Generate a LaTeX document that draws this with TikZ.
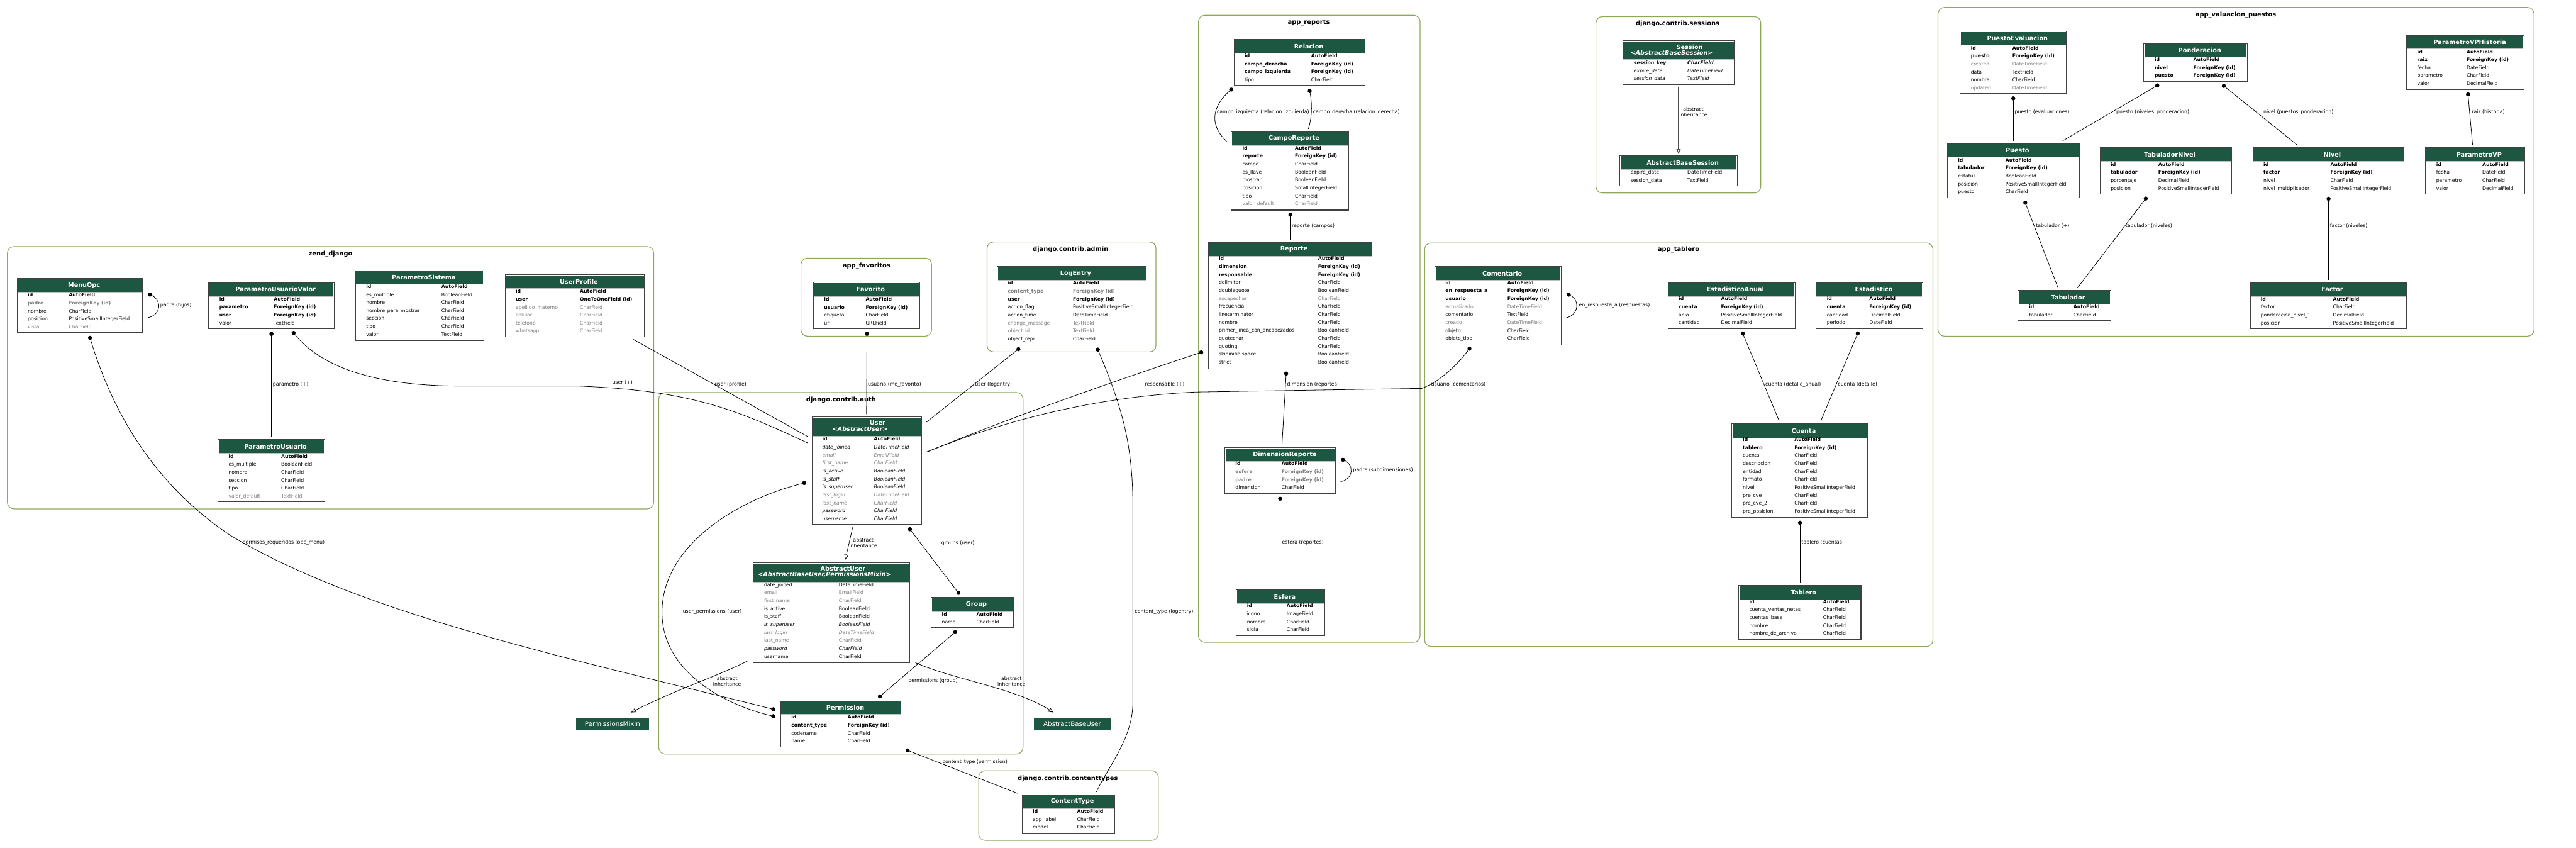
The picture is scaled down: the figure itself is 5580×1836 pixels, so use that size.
\documentclass[tikz,border=0pt]{standalone}
\usepackage{fontspec}
\setmainfont{DejaVu Sans}
\usetikzlibrary{arrows.meta}
\definecolor{hdrgreen}{HTML}{1E5741}
\definecolor{clus}{HTML}{8DA85A}
\definecolor{fgray}{HTML}{7F7F7F}
\definecolor{tborder}{HTML}{404040}
\newcommand\fxb{\bfseries}
\newcommand\fxn{}
\newcommand\fxg{\color{fgray}}
\newcommand\fxgb{\color{fgray}\bfseries}
\newcommand\fxi{\itshape}
\newcommand\fxgi{\color{fgray}\itshape}
\newcommand\fxbi{\bfseries\itshape}
\tikzset{
  tblbox/.style={draw=tborder, line width=1.4pt, inner sep=0pt, outer sep=0pt},
  hdrfill/.style={fill=hdrgreen},
  hdrtxt/.style={font=\fontsize{13.2}{15}\selectfont\bfseries, text=white, inner sep=0pt},
  fldtxt/.style={font=\fontsize{10.5}{12}\selectfont, inner sep=0pt, anchor=base west},
  clusterbox/.style={draw=clus, line width=1.6pt, rounded corners=14pt, inner sep=0pt, outer sep=0pt, anchor=north west},
  cluslbl/.style={font=\fontsize{13.5}{15}\selectfont\bfseries, inner sep=0pt},
  rel/.style={draw=black, line width=1.1pt},
  inh/.style={draw=black, line width=1.1pt, -{Triangle[open,length=11pt,width=9pt]}},
  lbl/.style={font=\fontsize{10.7}{12}\selectfont, inner sep=0pt, anchor=west},
  lblc/.style={font=\fontsize{10.7}{12}\selectfont, inner sep=0pt, align=center},
  plainbox/.style={fill=hdrgreen, text=white, font=\fontsize{14}{16}\selectfont, inner sep=0pt, anchor=north west},
}
% name, x, y, w, h, header height, title x, title
\newcommand\mtbl[8]{%
  \fill[white] (#2,#3) rectangle (#2+#4,#3+#5);
  \fill[hdrfill] (#2+1.5,#3+1.5) rectangle (#2+#4-1.5,#3+#6);
  \draw[white!75!black, line width=0.8pt] (#2+1.5,#3+#6) -- (#2+#4-1.5,#3+#6);
  \node[tblbox, minimum width=#4pt, minimum height=#5pt, anchor=north west] (#1) at (#2,#3) {};
  \node[hdrtxt] (#1-title) at (#7,#3+#6/2) {#8};
}
% name, col1 x, col2 x, first row centre y, list
\newcommand\mrows[5]{%
  \foreach [count=\xi] \xs/\xa/\xb in {#5} {
    \node[fldtxt] (#1-a\xi) at (#2,#4+3.8+17.25*\xi-17.25) {\xs\xa};
    \node[fldtxt] (#1-b\xi) at (#3,#4+3.8+17.25*\xi-17.25) {\xs\xb};
  }
}
\newcommand\mdot[1]{\fill (#1) circle (4.5pt);}
\begin{document}
\begin{tikzpicture}[x=1pt,y=-1pt]
\useasboundingbox (0,0) rectangle (5580,1836);
\fill[white] (0,0) rectangle (5580,1836);

% ---------------- clusters ----------------
\node[clusterbox, minimum width=1400pt, minimum height=568pt] (c-zend) at (16,534) {};
\node[cluslbl] (c-zend-l) at (716,550) {zend\_django};
\node[clusterbox, minimum width=283pt, minimum height=169pt] (c-fav) at (1735,559) {};
\node[cluslbl] (c-fav-l) at (1877,576) {app\_favoritos};
\node[clusterbox, minimum width=366pt, minimum height=238pt] (c-admin) at (2138,524) {};
\node[cluslbl] (c-admin-l) at (2319,541) {django.contrib.admin};
\node[clusterbox, minimum width=789pt, minimum height=783pt] (c-auth) at (1427,850) {};
\node[cluslbl] (c-auth-l) at (1822,866) {django.contrib.auth};
\node[clusterbox, minimum width=389pt, minimum height=151pt] (c-ct) at (2120,1669) {};
\node[cluslbl] (c-ct-l) at (2313,1686) {django.contrib.contenttypes};
\node[clusterbox, minimum width=480pt, minimum height=1358pt] (c-rep) at (2596,33) {};
\node[cluslbl] (c-rep-l) at (2835,49) {app\_reports};
\node[clusterbox, minimum width=357pt, minimum height=382pt] (c-ses) at (3457,36) {};
\node[cluslbl] (c-ses-l) at (3634,52) {django.contrib.sessions};
\node[clusterbox, minimum width=1101pt, minimum height=874pt] (c-tab) at (3086,526) {};
\node[cluslbl] (c-tab-l) at (3636,541) {app\_tablero};
\node[clusterbox, minimum width=1291pt, minimum height=712pt] (c-val) at (4198,16) {};
\node[cluslbl] (c-val-l) at (4843,32) {app\_valuacion\_puestos};

% ---------------- zend_django ----------------
\mtbl{menuopc}{37}{603}{272}{117.5}{29.5}{182}{MenuOpc}
\mrows{menuopc}{60}{149}{639}{\fxb/id/AutoField, \fxgb/padre/ForeignKey (id), \fxn/nombre/CharField, \fxn/posicion/PositiveSmallIntegerField, \fxg/vista/CharField}

\mtbl{puv}{452}{612}{272}{100}{30}{597}{ParametroUsuarioValor}
\mrows{puv}{475}{593}{647.6}{\fxb/id/AutoField, \fxb/parametro/ForeignKey (id), \fxb/user/ForeignKey (id), \fxn/valor/TextField}

\mtbl{pu}{472}{952}{231}{135}{29}{597}{ParametroUsuario}
\mrows{pu}{495}{609}{988}{\fxb/id/AutoField, \fxn/es\_multiple/BooleanField, \fxn/nombre/CharField, \fxn/seccion/CharField, \fxn/tipo/CharField, \fxg/valor\_default/TextField}

\mtbl{psis}{770}{586}{278}{152}{29}{918}{ParametroSistema}
\mrows{psis}{793}{956}{620.6}{\fxb/id/AutoField, \fxn/es\_multiple/BooleanField, \fxn/nombre/CharField, \fxn/nombre\_para\_mostrar/CharField, \fxn/seccion/CharField, \fxn/tipo/CharField, \fxn/valor/TextField}

\mtbl{uprof}{1094.5}{595}{301.5}{134}{29}{1254}{UserProfile}
\mrows{uprof}{1117}{1256}{630.6}{\fxb/id/AutoField, \fxb/user/OneToOneField (id), \fxg/apellido\_materno/CharField, \fxg/celular/CharField, \fxg/telefono/CharField, \fxg/whatsapp/CharField}

% ---------------- app_favoritos / admin ----------------
\mtbl{fav}{1762}{611}{230}{101}{31}{1886}{Favorito}
\mrows{fav}{1785}{1875}{648}{\fxb/id/AutoField, \fxb/usuario/ForeignKey (id), \fxn/etiqueta/CharField, \fxn/url/URLField}

\mtbl{logentry}{2160}{577}{323}{170}{30}{2330}{LogEntry}
\mrows{logentry}{2183}{2324}{613}{\fxb/id/AutoField, \fxgb/content\_type/ForeignKey (id), \fxb/user/ForeignKey (id), \fxn/action\_flag/PositiveSmallIntegerField, \fxn/action\_time/DateTimeField, \fxg/change\_message/TextField, \fxg/object\_id/TextField, \fxn/object\_repr/CharField}

% ---------------- auth ----------------
\mtbl{user}{1759}{903}{237}{233}{42}{1901}{}
\node[hdrtxt] (user-t1) at (1901,916) {User};
\node[hdrtxt, font=\fontsize{13.2}{15}\selectfont\bfseries\itshape] (user-t2) at (1863,929.5) {<AbstractUser>};
\mrows{user}{1781}{1893}{951}{\fxb/id/AutoField, \fxi/date\_joined/DateTimeField, \fxgi/email/EmailField, \fxgi/first\_name/CharField, \fxi/is\_active/BooleanField, \fxi/is\_staff/BooleanField, \fxi/is\_superuser/BooleanField, \fxgi/last\_login/DateTimeField, \fxgi/last\_name/CharField, \fxi/password/CharField, \fxi/username/CharField}

\mtbl{absuser}{1631}{1219}{340}{216}{41}{1826}{}
\node[hdrtxt] (absuser-t1) at (1826,1231.5) {AbstractUser};
\node[hdrtxt, font=\fontsize{13.2}{15}\selectfont\bfseries\itshape] (absuser-t2) at (1786,1245) {<AbstractBaseUser,PermissionsMixin>};
\mrows{absuser}{1655}{1817}{1266}{\fxn/date\_joined/DateTimeField, \fxg/email/EmailField, \fxg/first\_name/CharField, \fxn/is\_active/BooleanField, \fxn/is\_staff/BooleanField, \fxi/is\_superuser/BooleanField, \fxgi/last\_login/DateTimeField, \fxg/last\_name/CharField, \fxi/password/CharField, \fxn/username/CharField}

\mtbl{group}{2017}{1293}{179}{66}{31}{2115}{Group}
\mrows{group}{2040}{2115}{1330}{\fxb/id/AutoField, \fxn/name/CharField}

\mtbl{perm}{1691}{1518}{263}{100}{29}{1831}{Permission}
\mrows{perm}{1714}{1836}{1553}{\fxb/id/AutoField, \fxb/content\_type/ForeignKey (id), \fxn/codename/CharField, \fxn/name/CharField}

\node[plainbox, minimum width=159pt, minimum height=28pt] (permmixin) at (1247,1554) {PermissionsMixin};
\node[plainbox, minimum width=167pt, minimum height=28pt] (absbaseuser) at (2239,1554) {AbstractBaseUser};

\mtbl{ctype}{2215}{1721}{199}{83}{30}{2323}{ContentType}
\mrows{ctype}{2237}{2333}{1757}{\fxb/id/AutoField, \fxn/app\_label/CharField, \fxn/model/CharField}

% ---------------- app_reports ----------------
\mtbl{relacion}{2673}{85}{284}{100}{30}{2835}{Relacion}
\mrows{relacion}{2696}{2840}{120.7}{\fxb/id/AutoField, \fxb/campo\_derecha/ForeignKey (id), \fxb/campo\_izquierda/ForeignKey (id), \fxn/tipo/CharField}

\mtbl{camporep}{2667}{285}{255}{170}{30}{2803}{CampoReporte}
\mrows{camporep}{2691}{2805}{320.7}{\fxb/id/AutoField, \fxb/reporte/ForeignKey (id), \fxn/campo/CharField, \fxn/es\_llave/BooleanField, \fxn/mostrar/BooleanField, \fxn/posicion/SmallIntegerField, \fxn/tipo/CharField, \fxg/valor\_default/CharField}

\mtbl{reporte}{2617}{524.5}{355}{274.5}{30}{2803}{Reporte}
\mrows{reporte}{2640}{2855}{560}{\fxb/id/AutoField, \fxb/dimension/ForeignKey (id), \fxb/responsable/ForeignKey (id), \fxn/delimiter/CharField, \fxn/doublequote/BooleanField, \fxg/escapechar/CharField, \fxn/frecuencia/CharField, \fxn/lineterminator/CharField, \fxn/nombre/CharField, \fxn/primer\_linea\_con\_encabezados/BooleanField, \fxn/quotechar/CharField, \fxn/quoting/CharField, \fxn/skipinitialspace/BooleanField, \fxn/strict/BooleanField}

\mtbl{dimrep}{2653}{969.5}{240}{99.5}{30}{2783}{DimensionReporte}
\mrows{dimrep}{2676}{2776}{1004}{\fxb/id/AutoField, \fxgb/esfera/ForeignKey (id), \fxgb/padre/ForeignKey (id), \fxn/dimension/CharField}

\mtbl{esfera}{2678}{1277}{191}{99}{30}{2783}{Esfera}
\mrows{esfera}{2701}{2787}{1312}{\fxb/id/AutoField, \fxn/icono/ImageField, \fxn/nombre/CharField, \fxn/sigla/CharField}

% ---------------- sessions ----------------
\mtbl{session}{3515}{88}{242}{95}{41}{3660}{}
\node[hdrtxt] (session-t1) at (3660,101.5) {Session};
\node[hdrtxt, font=\fontsize{13.2}{15}\selectfont\bfseries\itshape] (session-t2) at (3621,114.5) {<AbstractBaseSession>};
\mrows{session}{3539}{3655}{136}{\fxbi/session\_key/CharField, \fxi/expire\_date/DateTimeField, \fxi/session\_data/TextField}

\mtbl{absses}{3509}{337}{254}{65}{30}{3645}{AbstractBaseSession}
\mrows{absses}{3532}{3655}{373}{\fxn/expire\_date/DateTimeField, \fxn/session\_data/TextField}

% ---------------- app_tablero ----------------
\mtbl{coment}{3108}{577}{274}{170}{30}{3254}{Comentario}
\mrows{coment}{3131}{3265}{612}{\fxb/id/AutoField, \fxb/en\_respuesta\_a/ForeignKey (id), \fxb/usuario/ForeignKey (id), \fxg/actualizado/DateTimeField, \fxn/comentario/TextField, \fxg/creado/DateTimeField, \fxn/objeto/CharField, \fxn/objeto\_tipo/CharField}

\mtbl{estanual}{3613}{612}{275}{100}{30}{3759}{EstadisticoAnual}
\mrows{estanual}{3636}{3728}{647}{\fxb/id/AutoField, \fxb/cuenta/ForeignKey (id), \fxn/anio/PositiveSmallIntegerField, \fxn/cantidad/DecimalField}

\mtbl{estad}{3933}{612}{232}{100}{30}{4059}{Estadistico}
\mrows{estad}{3957}{4049}{647}{\fxb/id/AutoField, \fxb/cuenta/ForeignKey (id), \fxn/cantidad/DecimalField, \fxn/periodo/DateField}

\mtbl{cuenta}{3751}{917}{295}{204}{31}{3907}{Cuenta}
\mrows{cuenta}{3775}{3887}{952}{\fxb/id/AutoField, \fxb/tablero/ForeignKey (id), \fxn/cuenta/CharField, \fxn/descripcion/CharField, \fxn/entidad/CharField, \fxn/formato/CharField, \fxn/nivel/PositiveSmallIntegerField, \fxn/pre\_cve/CharField, \fxn/pre\_cve\_2/CharField, \fxn/pre\_posicion/PositiveSmallIntegerField}

\mtbl{tablero}{3766}{1268}{265}{117}{30}{3907}{Tablero}
\mrows{tablero}{3789}{3949}{1303}{\fxb/id/AutoField, \fxn/cuenta\_ventas\_netas/CharField, \fxn/cuentas\_base/CharField, \fxn/nombre/CharField, \fxn/nombre\_de\_archivo/CharField}

% ---------------- app_valuacion_puestos ----------------
\mtbl{pueval}{4246}{68}{230}{134.5}{29}{4370}{PuestoEvaluacion}
\mrows{pueval}{4269}{4359}{104}{\fxb/id/AutoField, \fxb/puesto/ForeignKey (id), \fxg/created/DateTimeField, \fxn/data/TextField, \fxn/nombre/CharField, \fxg/updated/DateTimeField}

\mtbl{ponder}{4643.5}{94}{224.5}{82.6}{29}{4765}{Ponderacion}
\mrows{ponder}{4667}{4751}{129}{\fxb/id/AutoField, \fxb/nivel/ForeignKey (id), \fxb/puesto/ForeignKey (id)}

\mtbl{puesto}{4218}{311}{286}{117.6}{29}{4370}{Puesto}
\mrows{puesto}{4241}{4344}{346.5}{\fxb/id/AutoField, \fxb/tabulador/ForeignKey (id), \fxn/estatus/BooleanField, \fxn/posicion/PositiveSmallIntegerField, \fxn/puesto/CharField}

\mtbl{tabniv}{4549}{320}{285.5}{100}{29}{4700}{TabuladorNivel}
\mrows{tabniv}{4572}{4675}{356}{\fxb/id/AutoField, \fxb/tabulador/ForeignKey (id), \fxn/porcentaje/DecimalField, \fxn/posicion/PositiveSmallIntegerField}

\mtbl{tabul}{4371}{629}{201}{65}{30}{4480}{Tabulador}
\mrows{tabul}{4395}{4491}{664.5}{\fxb/id/AutoField, \fxn/tabulador/CharField}

\mtbl{nivel}{4880}{320}{328}{100}{29}{5052}{Nivel}
\mrows{nivel}{4903}{5048}{356}{\fxb/id/AutoField, \fxb/factor/ForeignKey (id), \fxn/nivel/CharField, \fxn/nivel\_multiplicador/PositiveSmallIntegerField}

\mtbl{pvph}{5213}{77}{254}{116.6}{28}{5350}{ParametroVPHistoria}
\mrows{pvph}{5236}{5343}{112}{\fxb/id/AutoField, \fxb/raiz/ForeignKey (id), \fxn/fecha/DateField, \fxn/parametro/CharField, \fxn/valor/DecimalField}

\mtbl{pvp}{5254}{320}{214.5}{100}{29}{5370}{ParametroVP}
\mrows{pvp}{5277}{5377}{356}{\fxb/id/AutoField, \fxn/fecha/DateField, \fxn/parametro/CharField, \fxn/valor/DecimalField}

\mtbl{factor}{4875}{612}{338}{100}{29.5}{5052}{Factor}
\mrows{factor}{4897}{5053.5}{647.6}{\fxb/id/AutoField, \fxn/factor/CharField, \fxn/ponderacion\_nivel\_1/DecimalField, \fxn/posicion/PositiveSmallIntegerField}

% ---------------- connector end points ----------------
\coordinate (e1a) at (325,638);   \coordinate (e1b) at (320,688);
\coordinate (e2a) at (588,723);   \coordinate (e2b) at (588,947);
\coordinate (e3a) at (636,721);   \coordinate (e3b) at (1749,959);
\coordinate (e4a) at (1372,735);  \coordinate (e4b) at (1749,945);
\coordinate (e5a) at (1878,723);  \coordinate (e5b) at (1877,897);
\coordinate (e6a) at (2206,756);  \coordinate (e6b) at (2007,914);
\coordinate (e7a) at (2378,757);  \coordinate (e7b) at (2375,1715);
\coordinate (e8a) at (2602,763);  \coordinate (e8b) at (2007,979);
\coordinate (e9a) at (3183,755);  \coordinate (e9b) at (2007,979);
\coordinate (e10a) at (1847,1142); \coordinate (e10b) at (1831,1212);
\coordinate (e11a) at (1971,1146); \coordinate (e11b) at (2076,1284);
\coordinate (e12a) at (1742,1046); \coordinate (e12b) at (1675,1551);
\coordinate (e13a) at (2069,1369); \coordinate (e13b) at (1906,1508);
\coordinate (e14a) at (1620,1431); \coordinate (e14b) at (1367,1543);
\coordinate (e15a) at (1983,1435); \coordinate (e15b) at (2282,1543);
\coordinate (e16a) at (1966,1625); \coordinate (e16b) at (2204,1718);
\coordinate (e17a) at (195,731.6); \coordinate (e17b) at (1675,1536);
\coordinate (e18a) at (2667,194); \coordinate (e18b) at (2657,306);
\coordinate (e19a) at (2837,197); \coordinate (e19b) at (2834,279);
\coordinate (e20a) at (2795,465); \coordinate (e20b) at (2795,519);
\coordinate (e21a) at (2786,809); \coordinate (e21b) at (2777,963);
\coordinate (e22a) at (2909,995.6); \coordinate (e22b) at (2904,1043);
\coordinate (e23a) at (2773,1080); \coordinate (e23b) at (2773,1270);
\coordinate (e24a) at (3636,188); \coordinate (e24b) at (3636,334);
\coordinate (e25a) at (3398,638); \coordinate (e25b) at (3393,688);
\coordinate (e26a) at (3775,722); \coordinate (e26b) at (3854,912);
\coordinate (e27a) at (4024,722); \coordinate (e27b) at (3944,912);
\coordinate (e28a) at (3899,1132); \coordinate (e28b) at (3899,1262);
\coordinate (e29a) at (4361,213); \coordinate (e29b) at (4361,305);
\coordinate (e30a) at (4673,185); \coordinate (e30b) at (4468,305);
\coordinate (e31a) at (4817,186); \coordinate (e31b) at (4976,314);
\coordinate (e32a) at (4387,439); \coordinate (e32b) at (4458,623.5);
\coordinate (e33a) at (4648,430); \coordinate (e33b) at (4500,623.5);
\coordinate (e34a) at (5044,430.5); \coordinate (e34b) at (5044,605.6);
\coordinate (e35a) at (5346,204.4); \coordinate (e35b) at (5356,314);

% ---------------- connectors ----------------
\draw[rel] (e1a) .. controls (352,648) and (350,682) .. (e1b);
\mdot{e1a}
\node[lbl] (l1) at (347,661) {padre (hijos)};

\draw[rel] (e2a) -- (e2b);
\mdot{e2a}
\node[lbl] (l2) at (591,833) {parametro (+)};

\draw[rel] (e3a) .. controls (690,790) and (800,836) .. (1000,836) -- (1250,836) .. controls (1500,845) and (1600,890) .. (e3b);
\mdot{e3a}
\node[lbl] (l3) at (1326,829) {user (+)};

\draw[rel] (e4a) -- (e4b);
\node[lbl] (l4) at (1548,833) {user (profile)};

\draw[rel] (e5a) -- (e5b);
\mdot{e5a}
\node[lbl] (l5) at (1880,833) {usuario (me\_favorito)};

\draw[rel] (e6a) -- (e6b);
\mdot{e6a}
\node[lbl] (l6) at (2112,833) {user (logentry)};

\draw[rel] (e7a) .. controls (2430,880) and (2454,960) .. (2454,1100) -- (2454,1520) .. controls (2454,1600) and (2400,1660) .. (e7b);
\mdot{e7a}
\node[lbl] (l7) at (2458,1325) {content\_type (logentry)};

\draw[rel] (e8a) .. controls (2400,830) and (2200,900) .. (e8b);
\mdot{e8a}
\node[lbl] (l8) at (2480,833) {responsable (+)};

\draw[rel] (e9a) .. controls (3150,800) and (3110,830) .. (3080,841) -- (2590,849) .. controls (2400,858) and (2200,900) .. (e9b);
\mdot{e9a}
\node[lbl] (l9) at (3100,833) {usuario (comentarios)};

\draw[inh] (e10a) -- (e10b);
\node[lblc] (l10) at (1870,1176) {abstract\\inheritance};

\draw[rel] (e11a) -- (e11b);
\mdot{e11a} \mdot{e11b}
\node[lbl] (l11) at (2039,1176) {groups (user)};

\draw[rel] (e12a) .. controls (1600,1080) and (1434,1180) .. (1434,1326) .. controls (1434,1460) and (1580,1530) .. (e12b);
\mdot{e12a} \mdot{e12b}
\node[lblc] (l12) at (1543,1325) {user\_permissions (user)};

\draw[rel] (e13a) -- (e13b);
\mdot{e13a} \mdot{e13b}
\node[lblc] (l13) at (2021,1475) {permissions (group)};

\draw[inh] (e14a) .. controls (1560,1462) and (1460,1495) .. (e14b);
\node[lblc] (l14) at (1575,1475) {abstract\\inheritance};

\draw[inh] (e15a) .. controls (2060,1470) and (2200,1490) .. (e15b);
\node[lblc] (l15) at (2191,1475) {abstract\\inheritance};

\draw[rel] (e16a) -- (e16b);
\mdot{e16a}
\node[lblc] (l16) at (2112,1651) {content\_type (permission)};

\draw[rel] (e17a) .. controls (260,950) and (380,1080) .. (500,1160) .. controls (800,1340) and (1300,1440) .. (e17b);
\mdot{e17a} \mdot{e17b}
\node[lbl] (l17) at (525,1175) {permisos\_requeridos (opc\_menu)};

\draw[rel] (e18a) .. controls (2628,226) and (2616,268) .. (e18b);
\mdot{e18a}
\node[lblc] (l18) at (2736,243) {campo\_izquierda (relacion\_izquierda)};

\draw[rel] (e19a) .. controls (2843,225) and (2842,255) .. (e19b);
\mdot{e19a}
\node[lbl] (l19) at (2844,243) {campo\_derecha (relacion\_derecha)};

\draw[rel] (e20a) -- (e20b);
\mdot{e20a}
\node[lbl] (l20) at (2798,489) {reporte (campos)};

\draw[rel] (e21a) -- (e21b);
\mdot{e21a}
\node[lbl] (l21) at (2788,833) {dimension (reportes)};

\draw[rel] (e22a) .. controls (2935,1005) and (2932,1038) .. (e22b);
\mdot{e22a}
\node[lbl] (l22) at (2931,1018) {padre (subdimensiones)};

\draw[rel] (e23a) -- (e23b);
\mdot{e23a}
\node[lbl] (l23) at (2777,1175) {esfera (reportes)};

\draw[inh, draw=black!70, line width=1.5pt] (e24a) -- (e24b);
\node[lblc] (l24) at (3668,243) {abstract\\inheritance};

\draw[rel] (e25a) .. controls (3424,648) and (3420,682) .. (e25b);
\mdot{e25a}
\node[lbl] (l25) at (3420,661) {en\_respuesta\_a (respuestas)};

\draw[rel] (e26a) -- (e26b);
\mdot{e26a}
\node[lbl] (l26) at (3824,833) {cuenta (detalle\_anual)};

\draw[rel] (e27a) -- (e27b);
\mdot{e27a}
\node[lbl] (l27) at (3981,833) {cuenta (detalle)};

\draw[rel] (e28a) -- (e28b);
\mdot{e28a}
\node[lbl] (l28) at (3902,1175) {tablero (cuentas)};

\draw[rel] (e29a) -- (e29b);
\mdot{e29a}
\node[lbl] (l29) at (4364,243) {puesto (evaluaciones)};

\draw[rel] (e30a) -- (e30b);
\mdot{e30a}
\node[lbl] (l30) at (4584,243) {puesto (niveles\_ponderacion)};

\draw[rel] (e31a) -- (e31b);
\mdot{e31a}
\node[lbl] (l31) at (4903,243) {nivel (puestos\_ponderacion)};

\draw[rel] (e32a) -- (e32b);
\mdot{e32a}
\node[lbl] (l32) at (4410,488.5) {tabulador (+)};

\draw[rel] (e33a) -- (e33b);
\mdot{e33a}
\node[lbl] (l33) at (4604,488.5) {tabulador (niveles)};

\draw[rel] (e34a) -- (e34b);
\mdot{e34a}
\node[lbl] (l34) at (5047,488.5) {factor (niveles)};

\draw[rel] (e35a) -- (e35b);
\mdot{e35a}
\node[lbl] (l35) at (5354,243) {raiz (historia)};

\end{tikzpicture}
\end{document}
